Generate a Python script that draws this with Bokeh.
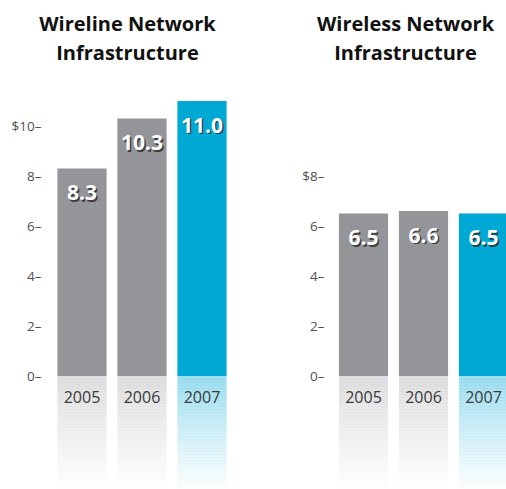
import numpy as np
from bokeh.plotting import figure
from bokeh.layouts import row
from bokeh.models import Range1d, ColumnDataSource
from bokeh.core.properties import value
from bokeh.embed import file_html
from bokeh.resources import INLINE

# ---- data ----
years = ["2005", "2006", "2007"]
wireline = [8.3, 10.3, 11.0]
wireless = [6.5, 6.6, 6.5]
wireline_labels = ["8.3", "10.3", "11.0"]
wireless_labels = ["6.5", "6.6", "6.5"]
wireline_ticks = [0, 2, 4, 6, 8, 10]
wireline_tick_labels = ["0–", "2–", "4–", "6–", "8–", "$10–"]
wireless_ticks = [0, 2, 4, 6, 8]
wireless_tick_labels = ["0–", "2–", "4–", "6–", "$8–"]
bar_colors = ["#939598", "#939598", "#00a8d4"]
wireline_title = ["Wireline Network", "Infrastructure"]
wireless_title = ["Wireless Network", "Infrastructure"]

FONT = "Open Sans"
W, H = 253, 489
PX_X = 60.0      # px per category step
PX_Y = 25.0      # px per $1
ZERO_Y = 375.5   # px from top of figure to value 0
BAR_W = 0.82


def panel(title_lines, vals, labels, ticks, tick_labels, first_center_px, tick_right_px, title_center_px):
    x0 = -first_center_px / PX_X
    p = figure(width=W, height=H, output_backend="svg", toolbar_location=None,
               x_axis_location=None, y_axis_location=None,
               x_range=Range1d(x0, x0 + W / PX_X),
               y_range=Range1d(-(H - ZERO_Y) / PX_Y, ZERO_Y / PX_Y),
               min_border=0)
    p.outline_line_color = None
    p.grid.visible = False
    p.background_fill_color = "white"
    p.border_fill_color = "white"

    idx = list(range(len(vals)))

    # reflection gradient below zero
    n = 40
    depth = (H - ZERO_Y) / PX_Y + 0.3
    dy = depth / n
    L, R, T, B, C, A = [], [], [], [], [], []
    for i in idx:
        a0 = 0.38 if i == len(idx) - 1 else 0.30
        for j in range(n):
            L.append(i - BAR_W / 2); R.append(i + BAR_W / 2)
            T.append(-j * dy); B.append(-(j + 1) * dy - 0.01)
            C.append(bar_colors[i])
            A.append(a0 * (1 - (j + 0.5) / n) ** 1.2)
    p.quad(left=L, right=R, top=T, bottom=B, fill_color=C, fill_alpha=A, line_color=None)

    src = ColumnDataSource(dict(x=idx, top=vals, color=bar_colors, label=labels, year=years))
    p.vbar(x="x", top="top", bottom=0, width=BAR_W, fill_color="color", line_color=None, source=src)

    # value labels with shadow
    p.text(x="x", y="top", text="label", source=src, x_offset=1.5, y_offset=25.5,
           text_align="center", text_baseline="middle", text_color="#222222", text_alpha=0.75,
           text_font=value(FONT), text_font_style="bold", text_font_size="21px")
    p.text(x="x", y="top", text="label", source=src, y_offset=24,
           text_align="center", text_baseline="middle", text_color="white",
           text_font=value(FONT), text_font_style="bold", text_font_size="21px")

    # year labels
    p.text(x="x", y=0, text="year", source=src, y_offset=21,
           text_align="center", text_baseline="middle", text_color="#3a3a3a",
           text_font=value(FONT), text_font_size="16px")

    # y tick labels
    tx_tick = x0 + tick_right_px / PX_X
    p.text(x=[tx_tick] * len(ticks), y=ticks, text=tick_labels,
           text_align="right", text_baseline="middle", text_color="#505050",
           text_font=value(FONT), text_font_size="13.5px")

    # titles
    tx = x0 + title_center_px / PX_X
    ty = [(ZERO_Y - ypx) / PX_Y for ypx in (22.5, 51.5)]
    p.text(x=[tx, tx], y=ty, text=title_lines,
           text_align="center", text_baseline="middle", text_color="#111111",
           text_font=value(FONT), text_font_style="bold", text_font_size="20px")
    return p


p1 = panel(wireline_title, wireline, wireline_labels, wireline_ticks, wireline_tick_labels,
           first_center_px=81.5, tick_right_px=41, title_center_px=127)
p2 = panel(wireless_title, wireless, wireless_labels, wireless_ticks, wireless_tick_labels,
           first_center_px=110, tick_right_px=71, title_center_px=152)

layout = row(p1, p2)
open("out.html", "w").write(file_html(layout, INLINE))
